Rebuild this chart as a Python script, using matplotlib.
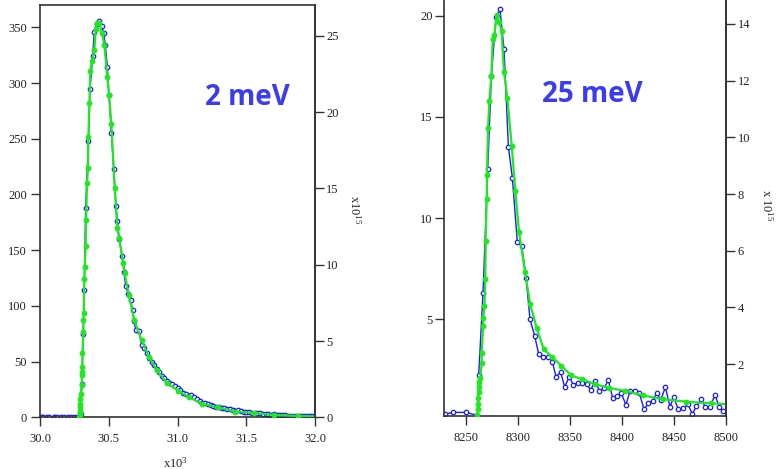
import matplotlib
matplotlib.use('Agg')
import matplotlib.pyplot as plt

plt.rcParams['font.family'] = ['Liberation Serif', 'DejaVu Serif']
plt.rcParams['mathtext.default'] = 'regular'

# ---------------- data: left panel (2 meV) ----------------
# x in units of 10^3
left_blue_x = [30.000, 30.012, 30.025, 30.050, 30.062, 30.100, 30.112, 30.125, 30.150,
               30.175, 30.200, 30.225, 30.250, 30.270, 30.285, 30.295, 30.305, 30.314,
               30.322, 30.332, 30.352, 30.364, 30.383, 30.395, 30.412, 30.429, 30.448,
               30.463, 30.475, 30.490, 30.502, 30.519, 30.536, 30.553, 30.562, 30.577,
               30.596, 30.611, 30.623, 30.640, 30.659, 30.674, 30.684, 30.698, 30.720,
               30.739, 30.756, 30.776, 30.795, 30.812, 30.829, 30.848, 30.868, 30.885,
               30.904, 30.921, 30.94, 30.96, 30.98, 31.00, 31.02, 31.04, 31.06, 31.08,
               31.10, 31.12, 31.14, 31.16, 31.18, 31.20, 31.22, 31.24, 31.26, 31.28,
               31.30, 31.32, 31.34, 31.36, 31.38, 31.40, 31.42, 31.44, 31.46, 31.48,
               31.50, 31.52, 31.54, 31.56, 31.58, 31.60, 31.62, 31.64, 31.66, 31.68,
               31.70, 31.72, 31.74, 31.76, 31.78, 31.80, 31.82, 31.84, 31.86, 31.88,
               31.90, 31.92, 31.94, 31.96, 31.98, 32.00]
left_blue_y = [0, 0, 0, 0, 0, 0, 0, 0, 0,
               0, 0, 0, 0, 0, 0, 3, 30, 75,
               114, 188, 248, 295, 324, 346, 353, 356, 351,
               345, 334, 314, 289, 255, 223, 190, 176, 160,
               145, 130, 118, 111, 105, 96, 86, 78, 77,
               65, 62, 58, 53, 50, 47, 43, 41, 37,
               35, 33, 31, 29.5, 28, 26, 24.5, 22, 21, 19,
               20, 18, 16, 14.5, 13, 12.5, 11.5, 11, 10, 9.5,
               9, 8.5, 8, 7.5, 7, 6.5, 6, 6.5, 5.5, 5,
               5, 4.5, 4, 4, 3.5, 3.5, 3, 3, 2.8, 2.5,
               2.8, 2.2, 2, 2, 1.8, 1.6, 1.5, 1.5, 1.3, 1.2,
               1.1, 1.0, 1.0, 0.9, 0.8, 0.8]

left_green_x = [30.286, 30.288, 30.289, 30.290, 30.291, 30.292, 30.293, 30.296, 30.303,
                30.305, 30.306, 30.308, 30.309, 30.315, 30.316, 30.318, 30.322, 30.325,
                30.332, 30.335, 30.342, 30.349, 30.352, 30.359, 30.366, 30.378, 30.395,
                30.405, 30.417, 30.429, 30.451, 30.468, 30.490, 30.502, 30.519, 30.543,
                30.562, 30.575, 30.606, 30.616, 30.645, 30.686, 30.739, 30.793, 30.853,
                30.921, 31.006, 31.084, 31.181, 31.292, 31.421, 31.554, 31.704, 31.874,
                32.05]
left_green_y = [0.04, 0.15, 0.29, 0.44, 0.66, 0.88, 1.17, 1.53, 2.12,
                2.78, 3.00, 3.29, 4.24, 5.56, 6.36, 6.87, 9.06, 9.87,
                11.26, 12.94, 15.35, 16.37, 18.35, 20.61, 22.73, 23.39, 24.05,
                25.44, 25.88, 25.88, 25.22, 24.42, 22.30, 21.13, 19.23, 15.06,
                12.43, 11.77, 10.09, 9.43, 8.04, 6.36, 5.04, 3.95, 3.07,
                2.27, 1.75, 1.32, 0.88, 0.66, 0.37, 0.29, 0.15, 0.09,
                0.05]

left_xticks = [30.0, 30.5, 31.0, 31.5, 32.0]
left_yticks = [0, 50, 100, 150, 200, 250, 300, 350]
left_y2ticks = [0, 5, 10, 15, 20, 25]

# ---------------- data: right panel (25 meV) ----------------
right_blue_x = [8225.0, 8229.8, 8237.8, 8250.0, 8261.0, 8262.2, 8266.4, 8270.9, 8274.4,
                8278.9, 8282.7, 8286.6, 8290.8, 8294.6, 8299.4, 8303.6, 8307.8, 8311.6,
                8316.1, 8320.0, 8324.5, 8328.6, 8333.1, 8336.6, 8341.1, 8345.0, 8349.5,
                8353.3, 8357.5, 8362.0, 8366.2, 8370.0, 8374.5, 8378.4, 8382.9, 8387.0,
                8391.2, 8395.4, 8399.5, 8404.0, 8407.9, 8412.7, 8416.9, 8421.4, 8425.5,
                8430.0, 8433.6, 8437.4, 8441.9, 8446.4, 8449.9, 8454.4, 8459.2, 8463.7,
                8467.9, 8471.8, 8476.6, 8480.1, 8484.9, 8489.7, 8493.9, 8497.8, 8502.0]
right_blue_y = [0.30, 0.32, 0.40, 0.40, 0.25, 2.25, 6.32, 12.42, 17.02,
                19.92, 20.31, 18.35, 13.53, 12.00, 8.80, 8.64, 7.06, 5.00,
                4.18, 3.27, 3.16, 3.16, 2.91, 2.17, 2.38, 1.67, 2.17,
                1.76, 1.87, 1.87, 1.80, 1.51, 1.97, 1.46, 1.59, 2.00,
                1.10, 1.23, 1.34, 0.77, 1.47, 1.47, 1.34, 0.55, 0.85,
                0.98, 1.38, 1.01, 1.64, 0.68, 1.15, 0.55, 0.60, 0.80,
                0.32, 0.71, 1.05, 0.68, 0.68, 1.26, 0.65, 0.47, 0.40]

right_green_x = [8261.0, 8261.3, 8261.6, 8261.9, 8262.2, 8262.5, 8262.9, 8263.6, 8265.1,
                 8265.2, 8266.4, 8266.7, 8267.7, 8268.6, 8268.9, 8269.9, 8270.2, 8271.2,
                 8272.5, 8274.4, 8275.8, 8277.3, 8279.5, 8281.8, 8284.3, 8286.6, 8289.8,
                 8294.0, 8297.5, 8301.0, 8306.8, 8311.6, 8318.0, 8324.8, 8332.5, 8341.8,
                 8351.1, 8362.0, 8373.9, 8387.4, 8403.4, 8420.4, 8439.3, 8462.1, 8485.9,
                 8512.0]
right_green_y = [0.20, 0.40, 0.60, 0.80, 1.00, 1.20, 1.38, 1.50, 2.02,
                 2.38, 3.34, 3.61, 4.05, 5.01, 6.35, 7.82, 8.67, 10.32,
                 11.29, 12.18, 13.46, 13.61, 14.32, 14.08, 13.76, 12.29, 11.38,
                 9.71, 8.09, 6.67, 5.26, 4.13, 3.28, 2.52, 2.26, 1.94,
                 1.60, 1.46, 1.29, 1.16, 1.05, 0.89, 0.76, 0.67, 0.61,
                 0.56]

right_xticks = [8250, 8300, 8350, 8400, 8450, 8500]
right_yticks = [5, 10, 15, 20]
right_y2ticks = [2, 4, 6, 8, 10, 12, 14]

# ---------------- styling ----------------
W, H = 779, 469
fig = plt.figure(figsize=(W / 100, H / 100), dpi=100)

def rect(x0, y0, x1, y1):
    return [x0 / W, 1 - y1 / H, (x1 - x0) / W, (y1 - y0) / H]

BLUE = '#1a1aff'
GREEN = '#1ee81e'
SPINE = '#333333'
TXT = '#222222'

blue_kw = dict(color=BLUE, lw=1.0, marker='o', ms=3.2, mfc='white', mec=BLUE, mew=0.9)
green_kw = dict(color=GREEN, lw=1.6, marker='o', ms=4.2, mfc=GREEN, mec=GREEN, mew=0)

def style(ax, which_spines):
    for s in ['left', 'right', 'top', 'bottom']:
        ax.spines[s].set_visible(s in which_spines)
        ax.spines[s].set_color(SPINE)
        ax.spines[s].set_linewidth(1.2)
    ax.tick_params(direction='out', length=6.5, width=1.0, color=SPINE,
                   labelsize=9, labelcolor=TXT)

# ---- left panel ----
ax1 = fig.add_axes(rect(40, 5, 315, 417.3))
ax1.plot(left_blue_x, left_blue_y, **blue_kw)
ax1.set_xlim(30.0, 32.0)
ax1.set_ylim(0, 370)
ax1.set_xticks(left_xticks)
ax1.set_xticklabels([f'{v:.1f}' for v in left_xticks])
ax1.set_yticks(left_yticks)
style(ax1, ['left', 'right', 'top', 'bottom'])
ax1.tick_params(axis='y', pad=3)
ax1.tick_params(axis='x', pad=5)

ax1b = ax1.twinx()
ax1b.plot(left_green_x, left_green_y, **green_kw)
ax1b.set_ylim(0, 27.03)
ax1b.set_yticks(left_y2ticks)
style(ax1b, ['right'])
ax1b.tick_params(axis='y', pad=1.5)
ax1b.set_xlim(30.0, 32.0)

fig.text(175 / W, 1 - 463 / H, 'x10$^{3}$', ha='center', va='center',
         fontsize=9, color=TXT)
fig.text(355 / W, 1 - 210 / H, 'x10$^{15}$', ha='center', va='center',
         rotation=270, fontsize=9, color=TXT)
fig.text(247 / W, 1 - 105 / H, '2 meV', ha='center', va='baseline',
         fontsize=20, fontweight='bold', color='#3b3bf2', family='Open Sans')

# ---- right panel ----
ax2 = fig.add_axes(rect(444.3, 0, 725.7, 416))
ax2.plot(right_blue_x, right_blue_y, **blue_kw)
ax2.set_xlim(8229.1, 8500)
ax2.set_ylim(0.222, 20.774)
ax2.set_xticks(right_xticks)
ax2.set_yticks(right_yticks)
style(ax2, ['left', 'right', 'bottom'])
ax2.tick_params(axis='y', pad=2)
ax2.tick_params(axis='x', pad=5)

ax2b = ax2.twinx()
ax2b.plot(right_green_x, right_green_y, **green_kw)
ax2b.set_ylim(0.165, 14.847)
ax2b.set_yticks(right_y2ticks)
style(ax2b, ['right'])
ax2b.tick_params(axis='y', pad=2)
ax2b.set_xlim(8229.1, 8500)

fig.text(767 / W, 1 - 205 / H, 'x 10$^{15}$', ha='center', va='center',
         rotation=270, fontsize=9, color=TXT)
fig.text(592 / W, 1 - 101.7 / H, '25 meV', ha='center', va='baseline',
         fontsize=20, fontweight='bold', color='#3b3bf2', family='Open Sans')

fig.savefig('out.png', dpi=100)
